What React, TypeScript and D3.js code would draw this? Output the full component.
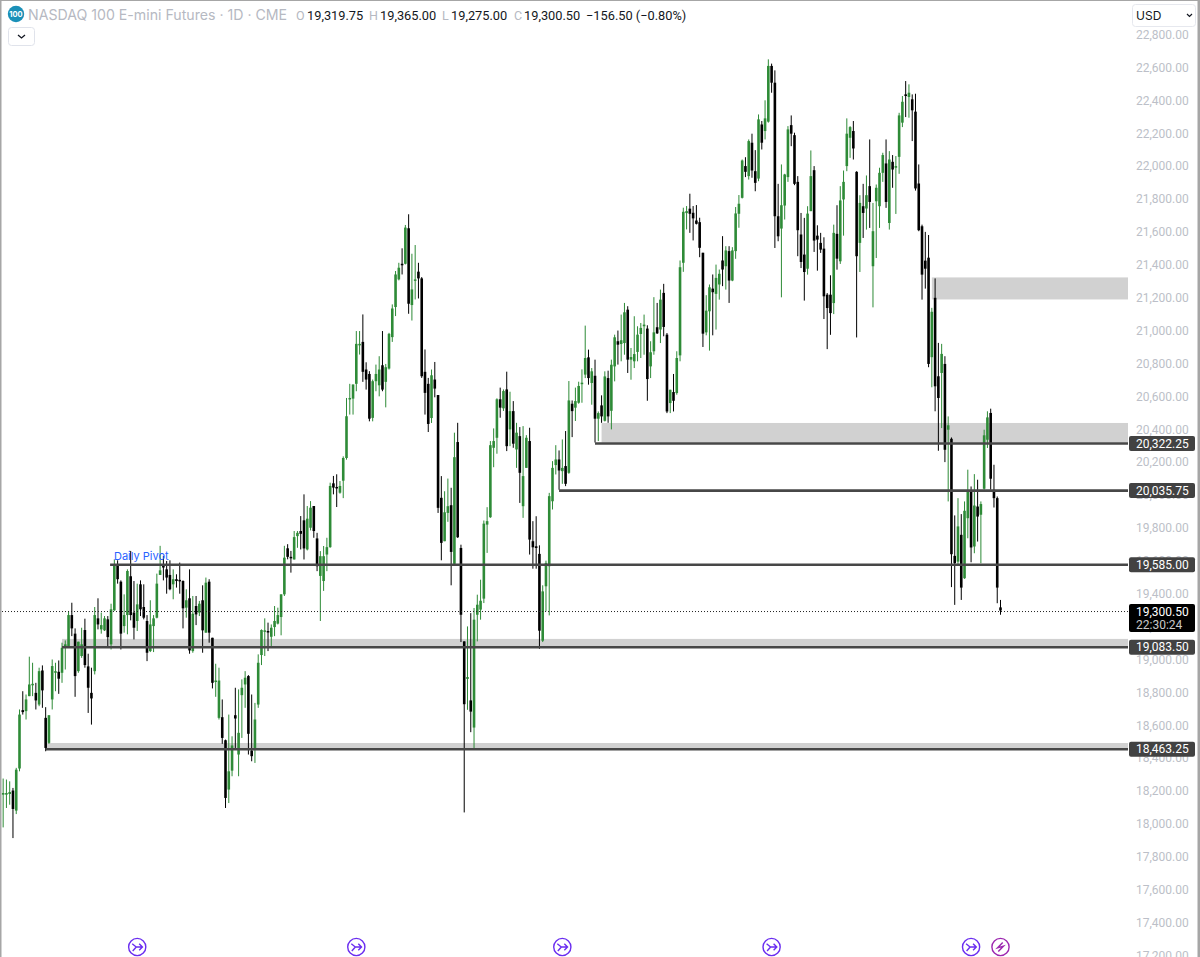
import React, { useEffect, useRef } from 'react';
import * as d3 from 'd3';

type Bar = [number, number, number, number]; // open, high, low, close

const earlyRange: Bar[] = [
  [18181,18279,17982,18191],[18181,18273,18100,18191],[18185,18262,18120,18197],[18206,18222,17917,18094],
  [18084,18344,18063,18333],[18340,18699,18323,18668],[18695,18810,18668,18683],[18689,18790,18638,18760],
  [18780,19020,18780,18851],[18847,18983,18780,18855],[18800,18861,18699,18754],[18729,18953,18719,18932],
  [18936,18967,18709,18815],[18648,18713,18445,18465],[18496,18664,18490,18664],[18760,19003,18699,18963],
  [18922,18983,18810,18932],[18928,18997,18794,18886],[18922,19105,18861,19074],[19078,19119,18942,19095],
  [19085,19298,19074,19273],[19273,19348,19145,19192],[19160,19192,18776,18902],[18932,19111,18922,19111],
  [19024,19196,19013,19095],[19182,19251,18953,18969],[18961,19038,18678,18831],[18800,18953,18607,18766],
  [18932,19322,18912,19273],[19253,19375,19186,19216],[19186,19288,19160,19212],[19180,19267,19176,19253],
  [19247,19267,19074,19139],[19095,19342,19064,19308],[19302,19612,19298,19578],[19578,19606,19464,19491],
  [19476,19484,19064,19160],[19206,19399,19166,19273],[19273,19551,19156,19541],[19509,19663,19241,19273],
  [19288,19480,19125,19196],[19237,19464,19176,19338],[19460,19484,19267,19308],[19322,19460,19247,19257],
  [19237,19273,18993,19044],[19054,19363,19048,19216],[19206,19273,19048,19253],[19257,19525,19253,19464],
  [19517,19694,19517,19545],[19572,19633,19484,19562],[19551,19602,19403,19501],[19517,19606,19424,19430],
  [19460,19551,19369,19491],[19491,19521,19440,19480],[19487,19592,19403,19480],[19480,19484,19192,19314],
  [19318,19430,19257,19363],[19375,19551,19038,19058],[19054,19389,19044,19281],[19328,19389,19212,19277],
  [19288,19359,19267,19342],[19363,19454,19044,19180],[19166,19501,19166,19470],[19476,19491,19105,19166],
];

const springDrop: Bar[] = [
  [19135,19135,18827,18861],[18871,18977,18776,18875],[18648,18953,18638,18875],[18652,18760,18490,18526],
  [18512,18516,18100,18161],[18212,18668,18130,18323],[18327,18536,18293,18480],[18664,18831,18465,18644],
  [18425,18821,18293,18557],[18786,18882,18526,18831],[18851,18932,18709,18892],[18902,18908,18425,18551],
  [18449,18790,18384,18415],[18465,18739,18374,18638],[18729,19034,18709,18983],[19030,19186,18969,19182],
  [19172,19253,19024,19180],[19176,19227,19054,19170],[19141,19216,19085,19196],[19200,19328,19145,19237],
  [19221,19318,19216,19273],[19261,19399,19150,19399],[19399,19694,19389,19622],[19679,19704,19612,19627],
  [19627,19663,19531,19622],
];

const firstRally: Bar[] = [
  [19611,19784,19611,19747],[19753,19784,19682,19773],[19784,19875,19672,19767],[19849,20007,19611,19678],
  [19672,19936,19666,19859],[19804,19966,19788,19926],[19936,19936,19743,19784],[19739,19773,19540,19570],
  [19511,19662,19237,19631],[19480,19693,19420,19631],[19641,19743,19540,19686],[19686,20078,19682,20058],
  [20074,20119,20007,20048],[20052,20129,19930,20048],[20017,20088,20011,20058],[20090,20238,19984,20228],
  [20228,20593,20218,20482],[20589,20679,20492,20593],[20589,20675,20492,20675],[20679,21000,20634,20922],
  [20918,21000,20857,20922],[20934,21101,20691,20752],[20766,20810,20644,20705],[20739,20756,20451,20467],
  [20472,20705,20451,20695],[20695,20796,20634,20739],[20670,20847,20603,20766],[20792,21000,20634,20644],
  [20691,20800,20536,20780],[20772,20989,20766,20983],[20963,21162,20934,21137],[21146,21365,21091,21344],
  [21314,21415,21308,21385],[21409,21503,21344,21405],[21409,21645,21405,21629],
];

const summerSlide: Bar[] = [
  [21625,21710,21105,21166],[21158,21470,21064,21253],[21310,21523,21192,21314],[21361,21415,21198,21320],
  [21320,21328,20715,20725],[20752,20888,20492,20624],[20679,20715,20386,20435],[20471,20766,20441,20731],
  [20705,20812,20597,20650],[20611,20611,19894,19925],[19986,20118,19606,19712],[19722,20026,19722,19898],
  [19894,20103,19840,19935],[19941,20047,19454,19657],[19584,20382,19580,20233],[20325,20442,19742,19746],
  [19681,19701,19109,19275],[19113,19113,18073,18731],[18885,19204,18697,18896],[18754,19285,18561,18686],
  [18589,19316,18463,19245],[19275,19397,19113,19336],[19306,19488,19245,19360],[19373,19848,19346,19829],
  [19823,19929,19651,19844],[19868,20331,19864,20306],[20290,20408,20172,20331],[20351,20591,20254,20585],
  [20585,20656,20473,20534],[20530,20645,20514,20635],[20645,20753,20270,20300],[20402,20631,20300,20513],
  [20513,20574,20290,20315],[20280,20442,20168,20382],[20361,20416,19955,20138],[19935,20422,19864,20118],
  [20168,20367,20168,20351],[20331,20412,19641,19732],[19722,19844,19555,19685],[19691,19874,19555,19681],
  [19645,19697,19068,19178],[19117,19454,19109,19417],[19448,19604,19296,19590],[19570,20016,19271,19996],
  [19965,20209,19915,20168],[20185,20306,20128,20219],[20219,20274,20035,20152],[20148,20341,20071,20168],
  [20179,20392,20057,20071],[20138,20696,20132,20578],[20558,20578,20355,20513],[20534,20656,20453,20574],
  [20564,20692,20558,20666],[20680,20767,20564,20686],
];

const autumnClimb: Bar[] = [
  [20735,21033,20714,20836],[20840,20887,20674,20714],[20684,20775,20552,20755],[20728,20826,20322,20467],
  [20467,20511,20331,20501],[20548,20609,20442,20481],[20454,20755,20450,20724],[20714,20759,20442,20481],
  [20515,20826,20402,20795],[20785,20978,20694,20962],[20938,21003,20796,20917],[20921,21100,20816,20944],
  [20927,21171,20856,21114],[21130,21151,20745,20826],[20826,20897,20704,20842],[20816,21090,20775,20860],
  [20873,21029,20816,20978],[20982,21049,20836,21019],[21029,21100,20856,21039],[21015,21035,20576,20708],
  [20785,20938,20714,20871],[20877,21206,20856,20992],[21023,21171,20982,20986],[21009,21252,20927,21191],
  [21232,21287,20968,21025],[20978,20988,20501,20511],[20562,20643,20501,20643],[20629,20739,20511,20576],
  [20623,20877,20613,20836],[20852,21429,20816,21388],[21415,21750,21360,21725],[21717,21760,21618,21729],
  [21744,21835,21597,21713],[21719,21760,21551,21685],[21672,21766,21648,21652],[21662,21689,21449,21506],
  [21476,21476,20903,20984],[20992,21218,20974,21124],[21120,21283,20881,21266],[21258,21344,20974,21236],
  [21226,21404,21009,21323],[21283,21374,21191,21348],[21429,21577,21273,21374],[21394,21516,21252,21490],
  [21486,21516,21171,21307],[21307,21510,21303,21490],[21486,21754,21439,21715],[21713,21827,21628,21774],
];

const toppingRange: Bar[] = [
  [21810,22043,21806,22037],[22003,22057,21936,21968],[21942,22165,21921,22155],[22145,22200,21932,21976],
  [21972,22100,21850,21901],[21927,22317,21911,22287],[22256,22277,22104,22145],[22216,22403,22165,22293],
  [22273,22652,22267,22612],[22612,22626,22449,22510],[22510,22585,21505,21698],[21698,21895,21546,21576],
  [21623,22013,21205,21765],[21763,21956,21678,21952],[21936,22246,21907,22226],[22252,22311,22124,22200],
  [22191,22206,21887,21895],[21907,21942,21455,21613],[21587,21718,21383,21420],[21465,21688,21185,21359],
  [21379,21759,21343,21714],[21729,22098,21729,21942],[21978,22003,21481,21550],[21580,21643,21367,21556],
  [21536,21597,21475,21495],[21501,21570,21073,21211],[21221,21231,20890,21140],[21221,21339,20977,21109],
  [21170,21647,21103,21597],[21591,21765,21373,21440],[21424,21881,21408,21794],[21800,21976,21580,21907],
  [22003,22293,21972,22200],[22175,22246,22053,22240],[22216,22277,22043,22110],[21968,21972,20961,21455],
  [21536,21826,21359,21779],[21759,21895,21566,21718],[21745,21946,21617,21826],[21881,22165,21627,21785],
  [21394,21779,21144,21607],[21789,21891,21444,21871],[21759,21993,21627,21962],[21962,22084,21907,22070],
  [22019,22165,21749,21785],[21657,22094,21617,22043],[22029,22070,21871,21982],[21993,22064,21712,22003],
  [22059,22327,21956,22311],[22267,22429,22240,22394],[22439,22520,22301,22429],[22423,22500,22297,22449],
  [22409,22439,22155,22342],
];

const finalDrop: Bar[] = [
  [22334,22443,21854,21867],[21897,22013,21607,21613],[21637,21647,21191,21343],[21428,21603,21258,21379],
  [21446,21584,20780,20800],[20841,21141,20658,21117],[21202,21320,20512,20664],[20725,20928,20272,20593],
  [20745,20922,20410,20861],[20800,20847,20203,20278],[20400,20481,19964,20427],[20345,20353,19443,19643],
  [19633,19879,19335,19588],[19598,19984,19578,19812],[19761,19887,19365,19440],[19497,19964,19493,19907],
  [19862,20157,19740,20025],[20025,20055,19594,19684],[19690,20130,19649,19939],[19933,20096,19720,19872],
  [19883,19964,19588,19948],[20041,20400,20035,20366],[20339,20512,20289,20475],[20502,20528,20035,20102],
  [20035,20187,19927,19984],[19984,19994,19345,19440],[19319.75,19365,19275,19300.5],
];

const bars: Bar[] = [...earlyRange, ...springDrop, ...firstRally, ...summerSlide, ...autumnClimb, ...toppingRange, ...finalDrop];

const priceTicks = d3.range(17200, 22801, 200);

const levelPrices = [20322.25, 20035.75, 19585, 19083.5, 18463.25];
const levelStarts = [181, 170, 32.7, 18, 13];

const zoneTops = [21326, 20441, 19128, 18495];
const zoneBottoms = [21192, 20322.25, 19083.5, 18463.25];
const zoneStarts = [284, 183, 18, 13];

const earningsBars = [41, 108, 171, 235, 296];
const dividendBar = 305;

const lastPrice = 19300.5;
const countdown = '22:30:24';

const fmt = d3.format(',.2f');
const FONT = 'Inter, "Noto Sans", sans-serif';
const NUM_FONT = 'Roboto, "Noto Sans", sans-serif';

const App: React.FC = () => {
  const ref = useRef<SVGSVGElement | null>(null);
  const width = 1200;
  const height = 957;
  const plotRight = 1128;

  useEffect(() => {
    if (!ref.current) return;
    const svg = d3.select(ref.current);
    svg.selectAll('*').remove();
    svg.style('font-family', FONT);

    const x = d3.scaleLinear().domain([0, bars.length - 1]).range([3.15, 1000.5]);
    const y = d3.scaleLinear().domain([17200, 22800]).range([956, 35]);

    // zones sit under the candles
    svg.append('g').selectAll('rect')
      .data(zoneTops)
      .join('rect')
      .attr('x', (_, i) => x(zoneStarts[i]))
      .attr('y', d => y(d))
      .attr('width', (_, i) => plotRight - x(zoneStarts[i]))
      .attr('height', (d, i) => y(zoneBottoms[i]) - y(d))
      .attr('fill', '#d1d1d1');

    const candle = svg.append('g').selectAll('g')
      .data(bars)
      .join('g')
      .attr('fill', d => (d[3] >= d[0] ? '#2e8b37' : '#000000'));

    candle.append('rect')
      .attr('x', (_, i) => x(i) - 0.5)
      .attr('y', d => y(d[1]))
      .attr('width', 1)
      .attr('height', d => Math.max(y(d[2]) - y(d[1]), 1));

    candle.append('rect')
      .attr('x', (_, i) => x(i) - 1.3)
      .attr('y', d => y(Math.max(d[0], d[3])))
      .attr('width', 2.6)
      .attr('height', d => Math.max(Math.abs(y(d[0]) - y(d[3])), 1.5));

    svg.append('g').selectAll('line')
      .data(levelPrices)
      .join('line')
      .attr('x1', (_, i) => x(levelStarts[i]))
      .attr('x2', plotRight)
      .attr('y1', d => y(d) + 1)
      .attr('y2', d => y(d) + 1)
      .attr('stroke', '#474747')
      .attr('stroke-width', 2.6);

    svg.append('line')
      .attr('x1', 2).attr('x2', plotRight)
      .attr('y1', y(lastPrice) + 1).attr('y2', y(lastPrice) + 1)
      .attr('stroke', '#222')
      .attr('stroke-width', 1)
      .attr('stroke-dasharray', '1 2');

    svg.append('text')
      .attr('x', 114).attr('y', 560)
      .attr('font-size', 11)
      .attr('fill', '#2962ff')
      .text('Daily Pivot');

    // price scale
    const axis = d3.axisRight(y)
      .tickValues(priceTicks)
      .tickSize(0)
      .tickFormat(d => fmt(d as number));
    svg.append('g')
      .attr('transform', `translate(${plotRight + 8},-0.5)`)
      .call(axis)
      .call(g => g.select('.domain').remove())
      .call(g => g.selectAll('text')
        .attr('x', 0)
        .attr('font-size', 12)
        .attr('font-family', NUM_FONT)
        .attr('fill', '#bcbfc8'));

    const tag = svg.append('g').selectAll('g')
      .data(levelPrices)
      .join('g')
      .attr('transform', d => `translate(${plotRight + 1},${y(d)})`);
    tag.append('rect')
      .attr('y', -6.5).attr('width', 66).attr('height', 15).attr('rx', 2)
      .attr('fill', '#424242');
    tag.append('text')
      .attr('x', 7).attr('y', 5.2)
      .attr('font-size', 12)
      .attr('font-family', NUM_FONT)
      .attr('fill', '#ffffff')
      .text(d => fmt(d));

    svg.append('rect')
      .attr('x', plotRight + 1).attr('y', y(lastPrice) - 6.5)
      .attr('width', 66).attr('height', 28).attr('rx', 2)
      .attr('fill', '#000');
    svg.append('text')
      .attr('x', plotRight + 8).attr('y', y(lastPrice) + 5.2)
      .attr('font-size', 12).attr('font-family', NUM_FONT).attr('fill', '#fff')
      .text(fmt(lastPrice));
    svg.append('text')
      .attr('x', plotRight + 8).attr('y', y(lastPrice) + 18)
      .attr('font-size', 12).attr('font-family', NUM_FONT).attr('fill', '#c8c8c8')
      .text(countdown);

    // event markers along the bottom
    const marker = svg.append('g').selectAll('g')
      .data(earningsBars)
      .join('g')
      .attr('transform', d => `translate(${x(d)},947)`)
      .attr('fill', 'none')
      .attr('stroke', '#6a2df0')
      .attr('stroke-width', 1.4);
    marker.append('circle').attr('r', 8.6);
    marker.append('path').attr('d', 'M-5,-3.2L-1,0L-4.5,4M-1,0H5M2,-3.2L5.2,0L2,3.2');

    const bolt = svg.append('g')
      .attr('transform', `translate(${x(dividendBar)},947)`)
      .attr('fill', 'none')
      .attr('stroke', '#9c27b0')
      .attr('stroke-width', 1.4);
    bolt.append('circle').attr('r', 8.6);
    bolt.append('path').attr('d', 'M2.2,-4.6L-3,0.9L3,-0.9L-2.2,4.6');

    // header
    svg.append('circle').attr('cx', 16).attr('cy', 14).attr('r', 8.2).attr('fill', '#1a90b8');
    svg.append('text')
      .attr('x', 16).attr('y', 17)
      .attr('text-anchor', 'middle')
      .attr('font-size', 7.5).attr('font-weight', 700).attr('fill', '#fff')
      .text('100');
    svg.append('text')
      .attr('x', 28).attr('y', 20)
      .attr('font-size', 14.15).attr('fill', '#b6b9c2')
      .text('NASDAQ 100 E-mini Futures · 1D · CME');

    const ohlcLetters = ['O', 'H', 'L', 'C'];
    const ohlcLast = [19319.75, 19365, 19275, 19300.5];
    const letterX = [296, 369, 442, 514];
    const valueX = [307, 380, 451, 524];
    ohlcLetters.forEach((l, i) => {
      svg.append('text').attr('x', letterX[i]).attr('y', 19.5)
        .attr('font-size', 12.5).attr('font-family', NUM_FONT).attr('fill', '#b6b9c2').text(l);
      svg.append('text').attr('x', valueX[i]).attr('y', 19.5)
        .attr('font-size', 12.8).attr('font-family', NUM_FONT).attr('fill', '#131722').text(fmt(ohlcLast[i]));
    });
    svg.append('text').attr('x', 586).attr('y', 19.5)
      .attr('font-size', 12.8).attr('font-family', NUM_FONT).attr('fill', '#131722')
      .text('−156.50 (−0.80%)');

    svg.append('rect')
      .attr('x', 8.5).attr('y', 27.5).attr('width', 26).attr('height', 18).attr('rx', 3)
      .attr('fill', '#fff').attr('stroke', '#e0e3eb');
    svg.append('path')
      .attr('d', 'M18,35L21.5,38L25,35')
      .attr('fill', 'none').attr('stroke', '#131722').attr('stroke-width', 1.3);

    // currency box covers the top tick
    svg.append('rect')
      .attr('x', 1132.5).attr('y', 4.5).attr('width', 63).attr('height', 22).attr('rx', 3)
      .attr('fill', '#fff').attr('stroke', '#e6e8ee');
    svg.append('text')
      .attr('x', 1136).attr('y', 19.5)
      .attr('font-size', 12).attr('fill', '#131722')
      .text('USD');
    svg.append('path')
      .attr('d', 'M1187,14L1189.5,16.5L1192,14')
      .attr('fill', 'none').attr('stroke', '#131722').attr('stroke-width', 1.2);

    // window frame
    svg.append('rect').attr('width', 1.5).attr('height', height).attr('fill', '#a6a6a6');
    svg.append('rect').attr('width', width).attr('height', 1).attr('fill', '#a6a6a6');
    svg.append('rect').attr('x', 1197.5).attr('width', 2.5).attr('height', height).attr('fill', '#a6a6a6');
  }, []);

  return (
    <svg
      ref={ref}
      width={width}
      height={height}
      style={{ position: 'absolute', left: 0, top: 0, display: 'block', background: '#fff' }}
    />
  );
};

export default App;
